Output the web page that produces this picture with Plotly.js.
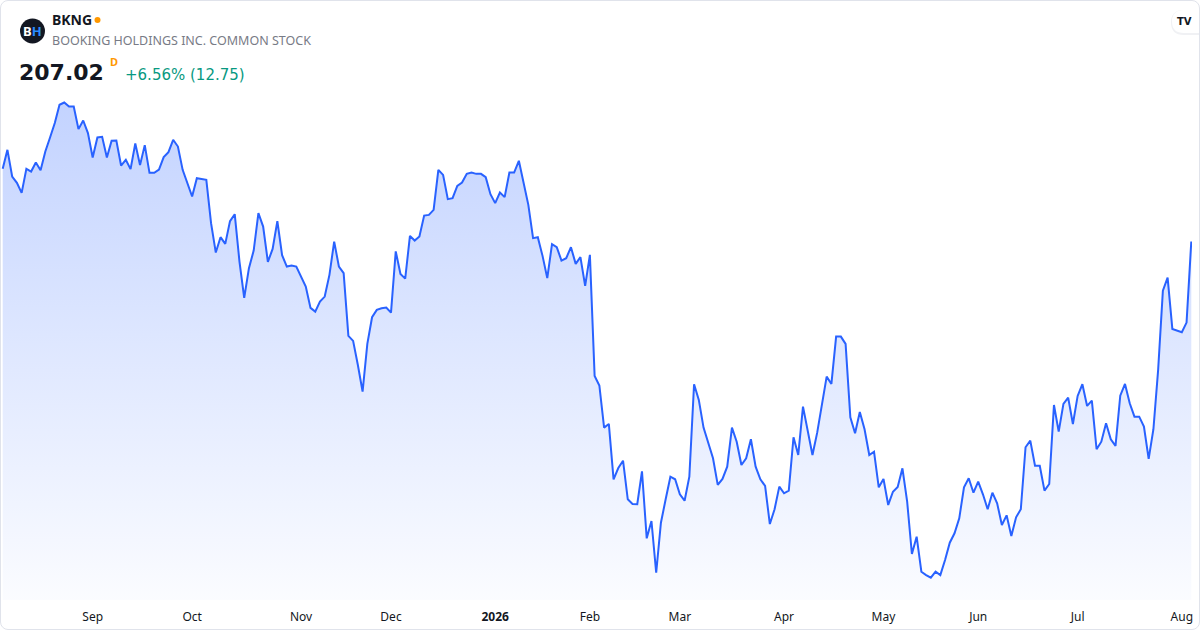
<!DOCTYPE html>
<html>
<head>
<meta charset="utf-8">
<script src="https://cdn.plot.ly/plotly-3.0.1.min.js"></script>
<style>
  html, body { margin: 0; padding: 0; background: #ffffff; }
  #wrap { position: relative; width: 1200px; height: 630px; overflow: hidden; }
  #chart { position: absolute; left: 0; top: 0; width: 1200px; height: 630px; }
  #frame { position: absolute; left: 0; top: 0; width: 1200px; height: 630px; box-sizing: border-box;
           border: 1px solid #e0e3eb; border-radius: 8px; pointer-events: none; }
</style>
</head>
<body>
<div id="wrap"><div id="chart"></div><div id="frame"></div></div>
<script>
// ---- Data (daily closes, trading-day order) ----
const ticker = 'BKNG';
const companyName = 'BOOKING HOLDINGS INC. COMMON STOCK';
const lastPrice = '207.02';
const changeText = '+6.56% (12.75)';

const prices = [
  218.47, 221.46, 217.26, 216.26, 214.69, 218.47, 218.04, 219.46, 218.26, 221.19,
  223.40, 225.67, 228.55, 228.91, 228.28, 228.28, 224.72, 226.08, 224.09, 220.25,
  223.40, 223.51, 220.25, 222.88, 222.93, 218.99, 219.89, 218.42, 222.45, 219.05,
  222.20, 217.84, 217.84, 218.36, 220.31, 221.10, 223.04, 221.98, 218.31, 216.06,
  214.11, 217.00, 216.89, 216.74, 209.92, 205.29, 207.71, 206.66, 210.23, 211.33,
  203.87, 198.15, 202.83, 205.60, 211.49, 209.38, 203.82, 205.87, 210.23, 204.88,
  203.08, 203.24, 203.08, 201.51, 199.93, 196.58, 196.00, 197.57, 198.36, 201.78,
  207.02, 203.08, 202.04, 192.17, 191.38, 187.60, 183.40, 190.91, 195.11, 196.26,
  196.53, 196.63, 195.84, 205.48, 201.93, 201.19, 207.92, 207.18, 207.81, 211.11,
  211.22, 212.01, 218.31, 217.52, 213.70, 213.85, 215.79, 216.31, 217.68, 217.89,
  217.68, 217.68, 217.16, 214.48, 213.07, 214.74, 214.01, 217.89, 217.89, 219.73,
  216.22, 212.80, 207.56, 207.71, 204.77, 201.26, 206.61, 206.14, 204.03, 204.41,
  206.14, 203.51, 204.56, 200.04, 204.93, 185.87, 184.37, 177.73, 178.31, 169.60,
  171.38, 172.53, 166.45, 165.71, 165.67, 170.86, 160.31, 163.04, 154.89, 162.77,
  166.45, 170.01, 169.60, 167.24, 166.23, 170.01, 184.56, 182.09, 177.73, 175.16,
  172.91, 168.71, 169.65, 171.59, 177.73, 175.52, 171.85, 172.91, 175.90, 171.59,
  169.60, 168.55, 162.56, 164.88, 168.44, 167.40, 167.81, 176.22, 173.43, 181.04,
  176.94, 173.43, 176.94, 181.04, 185.76, 184.61, 192.06, 192.06, 190.91, 179.37,
  176.85, 180.20, 177.48, 173.43, 173.95, 168.34, 169.65, 165.56, 167.65, 168.39,
  171.33, 166.08, 157.84, 160.56, 155.05, 154.53, 154.11, 155.05, 154.53, 156.89,
  159.62, 161.10, 163.46, 168.34, 169.76, 167.49, 169.22, 167.24, 164.88, 167.49,
  165.82, 162.41, 163.93, 160.67, 163.62, 164.88, 174.64, 175.68, 171.74, 171.74,
  167.81, 168.86, 181.30, 177.10, 181.46, 182.45, 178.31, 182.72, 184.56, 181.15,
  181.98, 174.33, 175.52, 178.42, 175.90, 174.85, 182.77, 184.61, 181.57, 179.46,
  179.46, 177.89, 172.80, 177.48, 186.82, 199.30, 201.35, 193.27, 193.00, 192.75,
  194.27, 207.02
];

// Month labels and the trading-day index of each month's first session
const tickLabels = ['Sep', 'Oct', 'Nov', 'Dec', '<b>2026</b>', 'Feb', 'Mar', 'Apr', 'May', 'Jun', 'Jul', 'Aug'];
const tickIdx    = [19, 40, 63, 82, 104, 124, 143, 165, 186, 206, 227, 249];

// ---- Layout geometry ----
const W = 1200, H = 630;
const M = { l: 0, r: 8, t: 60, b: 30 };
const plotW = W - M.l - M.r, plotH = H - M.t - M.b;
const px = x => (x - M.l) / plotW;          // page pixel -> paper x
const py = y => (H - M.b - y) / plotH;      // page pixel -> paper y

const xIdx = prices.map((_, i) => i);
const yMin = 150.6, yMax = 235.6;
const FONT = 'Noto Sans, Open Sans, Roboto, sans-serif';
const WIDE = 'DejaVu Sans, Noto Sans, sans-serif';

const trace = {
  x: xIdx,
  y: prices,
  type: 'scatter',
  mode: 'lines',
  line: { color: '#2962ff', width: 2 },
  fill: 'tozeroy',
  fillgradient: {
    type: 'vertical',
    start: yMin,
    stop: Math.max(...prices),
    colorscale: [[0, 'rgba(41,98,255,0.02)'], [1, 'rgba(41,98,255,0.28)']]
  },
  hoverinfo: 'skip'
};

const layout = {
  width: W, height: H,
  margin: M,
  paper_bgcolor: '#ffffff',
  plot_bgcolor: '#ffffff',
  showlegend: false,
  font: { family: FONT, color: '#131722', size: 12 },
  xaxis: {
    range: [-0.57, prices.length - 1 + 0.15],
    tickmode: 'array',
    tickvals: tickIdx,
    ticktext: tickLabels,
    showgrid: false, zeroline: false, showline: false,
    ticks: '', ticklen: 0,
    ticklabelstandoff: 8,
    tickfont: { family: FONT, size: 12, color: '#131722' },
    fixedrange: true
  },
  yaxis: {
    range: [yMin, yMax],
    visible: false,
    showgrid: false, zeroline: false,
    fixedrange: true
  },
  shapes: [
    // logo circle
    { type: 'circle', xref: 'paper', yref: 'paper',
      x0: px(20), x1: px(45), y0: py(43.5), y1: py(18.5),
      fillcolor: '#131722', line: { width: 0 } },
    // orange status dot
    { type: 'circle', xref: 'paper', yref: 'paper',
      x0: px(94.5), x1: px(100.5), y0: py(23), y1: py(17),
      fillcolor: '#ff9800', line: { width: 0 } },
    // TradingView badge (soft shadow + white pill)
    { type: 'path', xref: 'paper', yref: 'paper', layer: 'above',
      path: 'M ' + px(1184) + ',' + py(10) + ' L ' + px(1201) + ',' + py(10) + ' L ' + px(1201) + ',' + py(35) +
            ' L ' + px(1184) + ',' + py(35) + ' Q ' + px(1171) + ',' + py(35) + ' ' + px(1171) + ',' + py(22.5) +
            ' Q ' + px(1171) + ',' + py(10) + ' ' + px(1184) + ',' + py(10) + ' Z',
      fillcolor: '#f0f1f4', line: { width: 0 } },
    { type: 'path', xref: 'paper', yref: 'paper', layer: 'above',
      path: 'M ' + px(1184) + ',' + py(10) + ' L ' + px(1201) + ',' + py(10) + ' L ' + px(1201) + ',' + py(33) +
            ' L ' + px(1184) + ',' + py(33) + ' Q ' + px(1172) + ',' + py(33) + ' ' + px(1172) + ',' + py(21.5) +
            ' Q ' + px(1172) + ',' + py(10) + ' ' + px(1184) + ',' + py(10) + ' Z',
      fillcolor: '#ffffff', line: { width: 0 } }
  ],
  annotations: [
    { xref: 'paper', yref: 'paper', x: px(32.5), y: py(31), xanchor: 'center', yanchor: 'middle',
      text: '<b>B</b><b><span style="color:#2a8cff">H</span></b>', showarrow: false,
      font: { family: FONT, size: 13, color: '#ffffff' } },
    { xref: 'paper', yref: 'paper', x: px(50), y: py(20), xanchor: 'left', yanchor: 'middle',
      text: '<b>' + ticker + '</b>', showarrow: false,
      font: { family: FONT, size: 14, color: '#131722' } },
    { xref: 'paper', yref: 'paper', x: px(50), y: py(41), xanchor: 'left', yanchor: 'middle',
      text: companyName, showarrow: false,
      font: { family: FONT, size: 12.5, color: '#787b86' } },
    { xref: 'paper', yref: 'paper', x: px(17), y: py(72), xanchor: 'left', yanchor: 'middle',
      text: '<b>' + lastPrice + '</b>', showarrow: false,
      font: { family: WIDE, size: 22, color: '#131722' } },
    { xref: 'paper', yref: 'paper', x: px(108), y: py(61.5), xanchor: 'left', yanchor: 'middle',
      text: '<b>D</b>', showarrow: false,
      font: { family: FONT, size: 11, color: '#ff9800' } },
    { xref: 'paper', yref: 'paper', x: px(123), y: py(74.5), xanchor: 'left', yanchor: 'middle',
      text: changeText, showarrow: false,
      font: { family: WIDE, size: 15, color: '#089981' } },
    { xref: 'paper', yref: 'paper', x: px(1184), y: py(21.5), xanchor: 'center', yanchor: 'middle',
      text: '<b>TV</b>', showarrow: false,
      font: { family: WIDE, size: 10, color: '#131722' } }
  ]
};

Plotly.newPlot('chart', [trace], layout, { staticPlot: true, displayModeBar: false });
</script>
</body>
</html>
